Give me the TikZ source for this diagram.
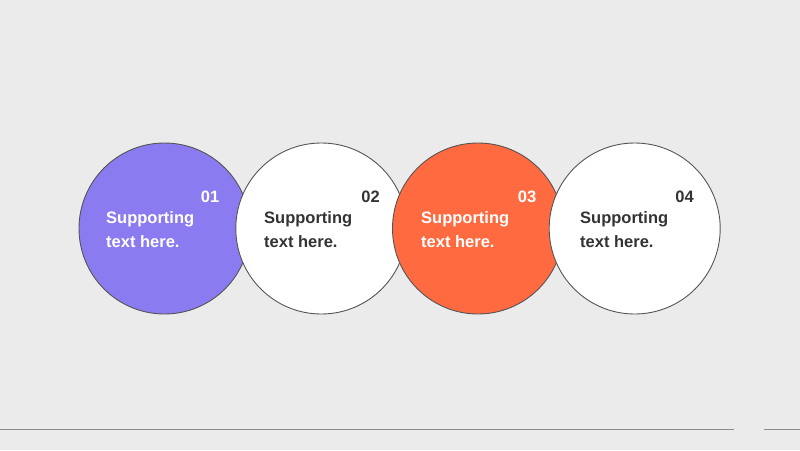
\documentclass[tikz,border=0pt]{standalone}
\usepackage{fontspec}
\setmainfont{Liberation Sans}
\definecolor{bg}{HTML}{EBEBEB}
\definecolor{purp}{HTML}{8A7CF0}
\definecolor{orng}{HTML}{FF6A40}
\definecolor{edge}{HTML}{555555}
\definecolor{dark}{HTML}{333333}
\definecolor{rule}{HTML}{8C8C8C}
\begin{document}
\begin{tikzpicture}[x=1pt,y=-1pt,
  disc/.style={circle,draw=edge,line width=0.9pt,minimum size=171pt,inner sep=0pt},
  body/.style={anchor=north west,align=left,font=\fontsize{16.5}{24}\selectfont\bfseries,inner sep=0pt},
  num/.style={anchor=east,font=\fontsize{16.5}{18}\selectfont\bfseries,inner sep=0pt},
  rulel/.style={draw=rule,line width=1.8pt}]
\fill[bg] (0,0) rectangle (800,450);
\useasboundingbox (0,0) rectangle (800,450);
\node[disc,fill=purp] (c1) at (164.5,228.5) {};
\node[disc,fill=white] (c2) at (321.3,228.5) {};
\node[disc,fill=orng] (c3) at (478,228.5) {};
\node[disc,fill=white] (c4) at (634.7,228.5) {};
\node[num,text=white] (n1) at (219.5,197) {01};
\node[num,text=dark] (n2) at (380,197) {02};
\node[num,text=white] (n3) at (536.5,197) {03};
\node[num,text=dark] (n4) at (694,197) {04};
\node[body,text=white] (t1) at (106,211) {Supporting\\text here.};
\node[body,text=dark] (t2) at (264,211) {Supporting\\text here.};
\node[body,text=white] (t3) at (421,211) {Supporting\\text here.};
\node[body,text=dark] (t4) at (580,211) {Supporting\\text here.};
\coordinate (l1a) at (0,429.5);
\coordinate (l1b) at (734,429.5);
\coordinate (l2a) at (764,429.5);
\coordinate (l2b) at (800,429.5);
\draw[rulel] (l1a) -- (l1b);
\draw[rulel] (l2a) -- (l2b);
\end{tikzpicture}
\end{document}
